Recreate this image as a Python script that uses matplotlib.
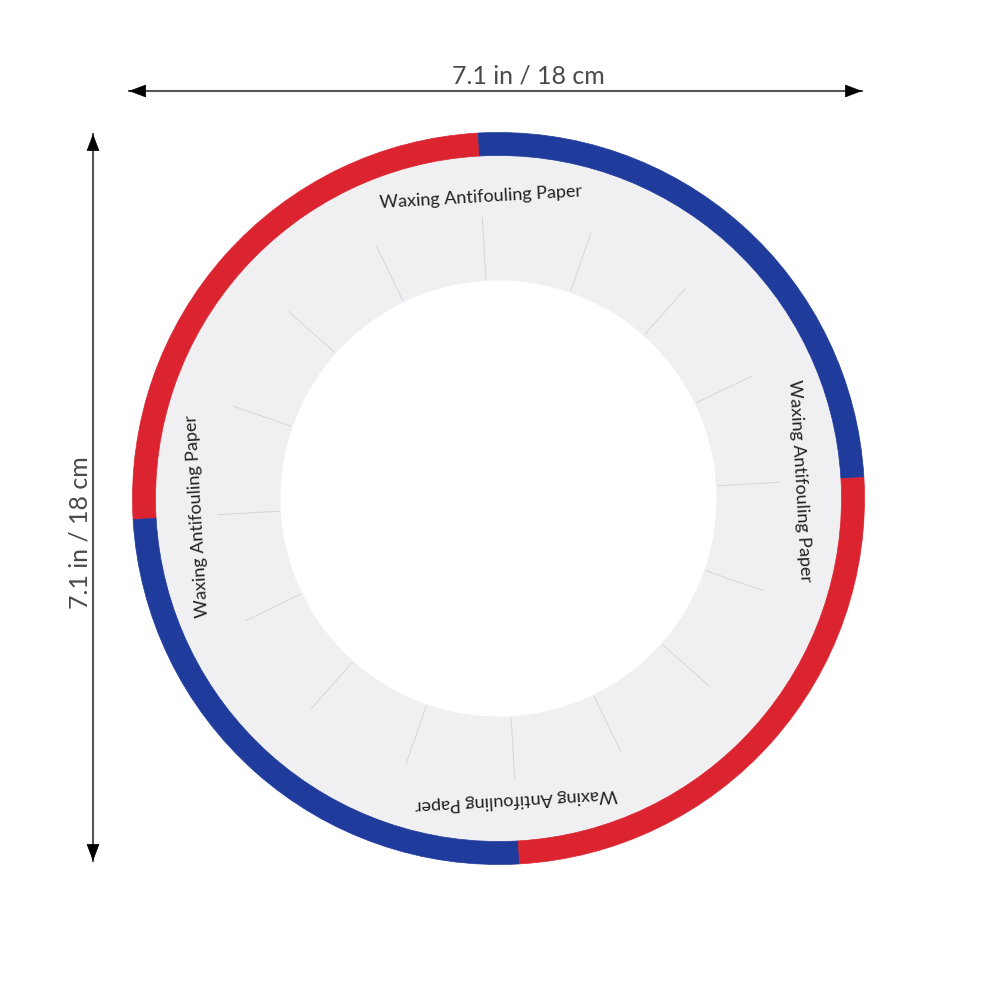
import numpy as np
import matplotlib.pyplot as plt
from matplotlib.patches import Wedge, Circle, FancyArrowPatch

# =========================================================
# Data (pixel units, y measured upward)
# =========================================================
center = (498.5, 491.5)
r_outer = 366
band = 23
r_hole = 218

seg_start = [3.3, 93.3, 183.3, 273.3]
seg_end = [93.3, 183.3, 273.3, 363.3]
seg_colors = ['#1f3b9c', '#dc2430', '#1f3b9c', '#dc2430']

label_text = "Waxing Antifouling Paper"
label_angles = [3.3, 93.3, 183.3, 273.3]
label_radius = 302

score_angles = [3.3, 25.8, 48.3, 70.8, 93.3, 115.8, 138.3, 160.8,
                183.3, 205.8, 228.3, 250.8, 273.3, 295.8, 318.3, 340.8]
score_r = (220, 281)

dim_label = "7.1 in / 18 cm"
h_arrow = ((129, 899), (862, 899))
v_arrow = ((93, 856), (93, 129))

# =========================================================
# Figure
# =========================================================
fig = plt.figure(figsize=(9.9, 9.9), dpi=100)
ax = fig.add_axes([0, 0, 1, 1])
ax.set_xlim(0, 990)
ax.set_ylim(0, 990)
ax.set_aspect('equal')
ax.axis('off')

# paper disc
ax.add_patch(Circle(center, r_outer - band + 1, facecolor='#f0eff2', edgecolor='none', zorder=1))
# colored rim
for a0, a1, c in zip(seg_start, seg_end, seg_colors):
    ax.add_patch(Wedge(center, r_outer, a0, a1, width=band, facecolor=c, edgecolor=c, lw=0.5, zorder=2))
# hole
ax.add_patch(Circle(center, r_hole, facecolor='white', edgecolor='none', zorder=3))

# score lines
for a in score_angles:
    t = np.radians(a)
    xs = [center[0] + score_r[0] * np.cos(t), center[0] + score_r[1] * np.cos(t)]
    ys = [center[1] + score_r[0] * np.sin(t), center[1] + score_r[1] * np.sin(t)]
    ax.plot(xs, ys, color='#d6d5db', lw=0.7, zorder=4)

# labels on the ring
for a in label_angles:
    t = np.radians(a)
    ax.text(center[0] + label_radius * np.cos(t), center[1] + label_radius * np.sin(t),
            label_text, rotation=a - 90, rotation_mode='anchor',
            ha='center', va='center', fontsize=13, family='Lato',
            color='#222222', zorder=5)

# dimension arrows: grey shaft, small black heads
for (p0, p1) in (h_arrow, v_arrow):
    ax.plot([p0[0], p1[0]], [p0[1], p1[1]], color='#555555', lw=1.5, zorder=6)
    d = np.array(p1, float) - np.array(p0, float)
    d = d / np.hypot(*d) * 14
    for tip, back in ((p0, np.array(p0) + d), (p1, np.array(p1) - d)):
        ax.add_patch(FancyArrowPatch(tuple(back), tip, arrowstyle='-|>,head_length=4.5,head_width=1.7',
                                     color='black', lw=0.5, shrinkA=0, shrinkB=0,
                                     mutation_scale=2.5, zorder=7))

ax.text(528, 914, dim_label, ha='center', va='center', fontsize=18,
        family='Lato', color='#4a4a4a')
ax.text(80, 457, dim_label, ha='center', va='center', fontsize=18, rotation=90,
        family='Lato', color='#4a4a4a')

fig.savefig('out.png', dpi=100, facecolor='white')
